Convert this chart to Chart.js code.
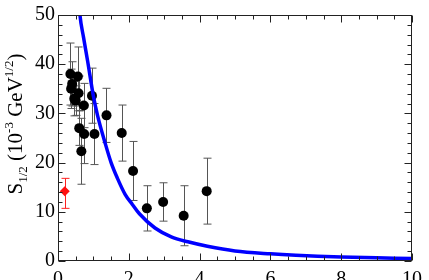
<!DOCTYPE html>
<html>
<head>
<meta charset="utf-8">
<script src="https://cdn.jsdelivr.net/npm/chart.js@4/dist/chart.umd.min.js"></script>
<style>
  html, body { margin: 0; padding: 0; background: #fff; }
  canvas { display: block; }
</style>
</head>
<body>
<canvas id="chart" width="429" height="280"></canvas>
<script>
// Measured points (black)
const dataX = [0.35, 0.56, 0.40, 0.37, 0.58, 0.46, 0.50, 0.73, 0.60, 0.74, 0.66, 0.96, 1.03, 1.37, 1.80, 2.12, 2.51, 2.97, 3.55, 4.20];
const dataY = [38.0, 37.5, 36.0, 35.0, 34.1, 33.0, 32.6, 31.6, 27.0, 25.8, 22.3, 33.6, 25.8, 29.6, 26.0, 18.3, 10.7, 12.0, 9.2, 14.2];
const dataErr = [6.3, 6.0, 4.5, 4.0, 3.5, 3.5, 3.0, 4.5, 3.5, 6.0, 6.7, 5.6, 6.2, 5.5, 5.7, 6.0, 4.6, 3.9, 6.1, 6.7];

// Red point with asymmetric error
const redX = [0.19];
const redY = [14.2];
const redErrLow = [3.5];
const redErrHigh = [2.6];

// Blue curve
const curveX = [0.55, 0.62, 0.72, 0.84, 1.00, 1.12, 1.33, 1.50, 1.68, 1.90, 2.10, 2.30, 2.74, 3.20, 3.67, 4.22, 5.00, 6.00, 6.72, 8.00, 9.00, 10.0];
const curveY = [57.0, 50.0, 45.5, 40.5, 33.5, 29.5, 24.0, 20.0, 16.8, 13.5, 11.5, 9.6, 6.7, 4.9, 3.9, 3.0, 2.05, 1.45, 1.15, 0.8, 0.65, 0.5];

// Axis ticks
const xTicks = [0, 2, 4, 6, 8, 10];
const yTicks = [0, 10, 20, 30, 40, 50];
const xMinorStep = 0.5;
const yMinorStep = 2;

const serif = '"Liberation Serif", "DejaVu Serif", serif';

function toPoints(xs, ys) {
    return xs.map((x, i) => ({ x: x, y: ys[i] }));
}

// Error bars, drawn before the markers so the dots sit on top
const errorBars = {
    id: 'errorBars',
    beforeDatasetsDraw(chart) {
        const ctx = chart.ctx;
        const xs = chart.scales.x, ys = chart.scales.y;
        const drawBar = (x, lo, hi, color) => {
            const px = Math.round(xs.getPixelForValue(x)) + 0.5;
            const p1 = ys.getPixelForValue(lo), p2 = ys.getPixelForValue(hi);
            ctx.beginPath();
            ctx.moveTo(px, p1); ctx.lineTo(px, p2);
            ctx.moveTo(px - 4, p1); ctx.lineTo(px + 4, p1);
            ctx.moveTo(px - 4, p2); ctx.lineTo(px + 4, p2);
            ctx.strokeStyle = color;
            ctx.lineWidth = 1;
            ctx.stroke();
        };
        ctx.save();
        dataX.forEach((x, i) => drawBar(x, dataY[i] - dataErr[i], dataY[i] + dataErr[i], '#555'));
        redX.forEach((x, i) => drawBar(x, redY[i] - redErrLow[i], redY[i] + redErrHigh[i], '#ff2020'));
        ctx.restore();
    }
};

// Frame with inward ticks on all four sides
const frame = {
    id: 'frame',
    afterDatasetsDraw(chart) {
        const ctx = chart.ctx;
        const a = chart.chartArea;
        const xs = chart.scales.x, ys = chart.scales.y;
        ctx.save();
        ctx.strokeStyle = '#222';
        ctx.lineWidth = 1;
        const L = Math.round(a.left) + 0.5, R = Math.round(a.right) - 0.5;
        const T = Math.round(a.top) + 0.5, B = Math.round(a.bottom) - 0.5;
        ctx.strokeRect(L, T, R - L, B - T);
        ctx.beginPath();
        for (let v = 0; v <= 10.001; v += xMinorStep) {
            const major = Math.abs(v / 2 - Math.round(v / 2)) < 1e-6;
            const len = major ? 7 : 4;
            const px = Math.round(xs.getPixelForValue(v)) + 0.5;
            ctx.moveTo(px, B); ctx.lineTo(px, B - len);
            ctx.moveTo(px, T); ctx.lineTo(px, T + len);
        }
        for (let v = 0; v <= 50.001; v += yMinorStep) {
            const major = v % 10 === 0;
            const len = major ? 7 : 4;
            const py = Math.round(ys.getPixelForValue(v)) + 0.5;
            ctx.moveTo(L, py); ctx.lineTo(L + len, py);
            ctx.moveTo(R, py); ctx.lineTo(R - len, py);
        }
        ctx.stroke();
        ctx.restore();
    }
};

// Y axis title with subscript and superscripts
const yTitle = {
    id: 'yTitle',
    afterDraw(chart) {
        const ctx = chart.ctx;
        const parts = [
            { t: 'S', size: 21, dy: 0 },
            { t: '1/2', size: 13, dy: 5 },
            { t: ' (10', size: 21, dy: 0 },
            { t: '-3', size: 13, dy: -9 },
            { t: ' GeV', size: 21, dy: 0 },
            { t: '1/2', size: 13, dy: -9 },
            { t: ')', size: 21, dy: 0 }
        ];
        ctx.save();
        let total = 0;
        parts.forEach(p => {
            ctx.font = p.size + 'px ' + serif;
            p.w = ctx.measureText(p.t).width;
            total += p.w;
        });
        ctx.translate(22, 124);
        ctx.rotate(-Math.PI / 2);
        ctx.fillStyle = '#000';
        ctx.textBaseline = 'alphabetic';
        let x = -total / 2;
        parts.forEach(p => {
            ctx.font = p.size + 'px ' + serif;
            ctx.fillText(p.t, x, p.dy);
            x += p.w;
        });
        ctx.restore();
    }
};

new Chart(document.getElementById('chart'), {
    type: 'scatter',
    data: {
        datasets: [
            {
                label: 'curve',
                type: 'line',
                data: toPoints(curveX, curveY),
                borderColor: '#0000ff',
                borderWidth: 3.5,
                pointRadius: 0,
                fill: false,
                cubicInterpolationMode: 'monotone'
            },
            {
                label: 'data',
                data: toPoints(dataX, dataY),
                backgroundColor: '#000',
                borderColor: '#000',
                pointRadius: 5,
                pointBorderWidth: 0
            },
            {
                label: 'red',
                data: toPoints(redX, redY),
                backgroundColor: '#ff1010',
                borderColor: '#ff1010',
                pointStyle: 'rectRot',
                pointRadius: 5,
                pointBorderWidth: 0
            }
        ]
    },
    options: {
        responsive: false,
        animation: false,
        layout: { padding: { top: 9, right: 11, left: 0, bottom: 0 } },
        plugins: {
            legend: { display: false },
            tooltip: { enabled: false }
        },
        scales: {
            x: {
                type: 'linear',
                min: 0,
                max: 10,
                afterBuildTicks: s => { s.ticks = xTicks.map(v => ({ value: v })); },
                afterFit: s => { s.height = 19; },
                grid: { display: false, drawTicks: false },
                border: { display: false },
                ticks: { color: '#000', padding: 7, maxRotation: 0, font: { family: serif, size: 20 } }
            },
            y: {
                type: 'linear',
                min: 0,
                max: 50,
                afterBuildTicks: s => { s.ticks = yTicks.map(v => ({ value: v })); },
                afterFit: s => { s.width = 58; },
                grid: { display: false, drawTicks: false },
                border: { display: false },
                ticks: { color: '#000', padding: 3, font: { family: serif, size: 20 } }
            }
        }
    },
    plugins: [errorBars, frame, yTitle]
});
</script>
</body>
</html>
